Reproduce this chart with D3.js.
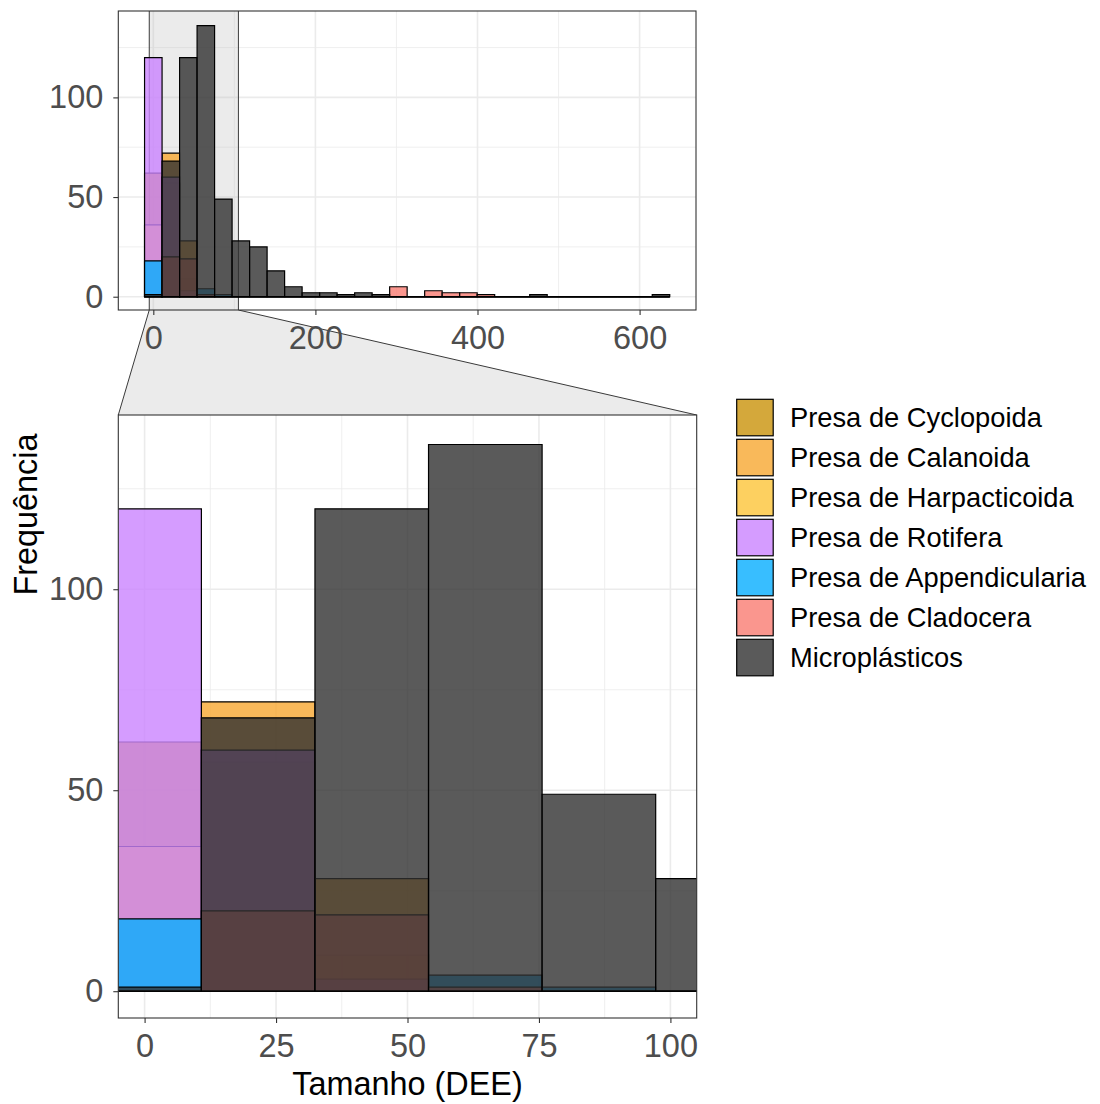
<!DOCTYPE html>
<html>
<head>
<meta charset="utf-8">
<script src="https://cdn.jsdelivr.net/npm/d3@7"></script>
<style>
  body { margin: 0; background: #fff; }
  text { font-family: "Liberation Sans", Arial, sans-serif; }
</style>
</head>
<body>
<div id="chart"></div>
<script>
// histogram bins (30 bins, first one centred on 0)
const binWidth = 21.6;
const binStart = -binWidth / 2;

const seriesNames = ["Presa de Cyclopoida", "Presa de Calanoida", "Presa de Harpacticoida",
  "Presa de Rotifera", "Presa de Appendicularia", "Presa de Cladocera", "Microplásticos"];
const seriesColors = ["#C9920A", "#F7A831", "#FDC438", "#CB83FF", "#06AEFF", "#F97C72", "#313131"];

// counts per bin, one array per series
const cyclopoida     = [62, 57, 9, 0, 0, 0, 0, 0, 0, 0, 0, 0, 0, 0, 0, 0, 0, 0, 0, 0, 0, 0, 0, 0, 0, 0, 0, 0, 0, 0];
const calanoida      = [0, 72, 28, 0, 0, 0, 0, 0, 0, 0, 0, 0, 0, 0, 0, 0, 0, 0, 0, 0, 0, 0, 0, 0, 0, 0, 0, 0, 0, 0];
const harpacticoida  = [36, 0, 0, 0, 0, 0, 0, 0, 0, 0, 0, 0, 0, 0, 0, 0, 0, 0, 0, 0, 0, 0, 0, 0, 0, 0, 0, 0, 0, 0];
const rotifera       = [120, 60, 3, 0, 0, 0, 0, 0, 0, 0, 0, 0, 0, 0, 0, 0, 0, 0, 0, 0, 0, 0, 0, 0, 0, 0, 0, 0, 0, 0];
const appendicularia = [18, 0, 0, 4, 1, 0, 0, 0, 0, 0, 0, 0, 0, 0, 0, 0, 0, 0, 0, 0, 0, 0, 0, 0, 0, 0, 0, 0, 0, 0];
const cladocera      = [0, 20, 19, 1, 0, 0, 0, 0, 0, 0, 0, 0, 0, 0, 5, 0, 3, 2, 2, 1, 0, 0, 0, 0, 0, 0, 0, 0, 0, 0];
const microplasticos = [1, 68, 120, 136, 49, 28, 25, 13, 5, 2, 2, 1, 2, 1, 0, 0, 0, 0, 0, 0, 0, 0, 1, 0, 0, 0, 0, 0, 0, 1];

const seriesCounts = [cyclopoida, calanoida, harpacticoida, rotifera, appendicularia, cladocera, microplasticos];

// ticks
const topXMajor = [0, 200, 400, 600], topXMinor = [100, 300, 500];
const botXMajor = [0, 25, 50, 75, 100], botXMinor = [12.5, 37.5, 62.5, 87.5];
const yMajor = [0, 50, 100], yMinor = [25, 75, 125];
const zoomRange = [-5, 105];

const W = 1100, H = 1104;
const fillAlpha = 0.8;

const svg = d3.select("#chart").append("svg")
  .attr("width", W).attr("height", H);

// panel boxes
const topBox = {x0: 118.3, x1: 696, y0: 11, y1: 310};
const botBox = {x0: 118.3, x1: 696.7, y0: 415, y1: 1018};

const nb = cyclopoida.length;
const xTop = d3.scaleLinear()
  .domain([binStart - 0.05 * nb * binWidth, binStart + nb * binWidth * 1.05])
  .range([topBox.x0, topBox.x1]);
const xBot = d3.scaleLinear().domain(zoomRange).range([botBox.x0, botBox.x1]);
const yMax = d3.max(seriesCounts, s => d3.max(s));
const yTop = d3.scaleLinear().domain([-0.049 * yMax, yMax * 1.054]).range([topBox.y1, topBox.y0]);
const yBot = d3.scaleLinear().domain([-0.049 * yMax, yMax * 1.054]).range([botBox.y1, botBox.y0]);

// zoom connector (between the panels)
svg.append("path")
  .attr("d", `M${xTop(zoomRange[0])},${topBox.y1} L${xTop(zoomRange[1])},${topBox.y1} L${botBox.x1},${botBox.y0} L${botBox.x0},${botBox.y0} Z`)
  .attr("fill", "#BEBEBE").attr("fill-opacity", 0.3)
  .attr("stroke", "none");
svg.append("line").attr("x1", xTop(zoomRange[0])).attr("y1", topBox.y1).attr("x2", botBox.x0).attr("y2", botBox.y0)
  .attr("stroke", "#3a3a3a").attr("stroke-width", 1);
svg.append("line").attr("x1", xTop(zoomRange[1])).attr("y1", topBox.y1).attr("x2", botBox.x1).attr("y2", botBox.y0)
  .attr("stroke", "#3a3a3a").attr("stroke-width", 1);

function drawPanel(box, xs, ys, xMajor, xMinor, withZoomRect, id) {
  const g = svg.append("g");
  g.append("rect").attr("x", box.x0).attr("y", box.y0)
    .attr("width", box.x1 - box.x0).attr("height", box.y1 - box.y0).attr("fill", "#fff");

  svg.append("clipPath").attr("id", id).append("rect")
    .attr("x", box.x0).attr("y", box.y0)
    .attr("width", box.x1 - box.x0).attr("height", box.y1 - box.y0);
  const inner = g.append("g").attr("clip-path", `url(#${id})`);

  // grid
  inner.selectAll(".vminor").data(xMinor).enter().append("line")
    .attr("x1", d => xs(d)).attr("x2", d => xs(d)).attr("y1", box.y0).attr("y2", box.y1)
    .attr("stroke", "#EBEBEB").attr("stroke-width", 0.8);
  inner.selectAll(".hminor").data(yMinor).enter().append("line")
    .attr("y1", d => ys(d)).attr("y2", d => ys(d)).attr("x1", box.x0).attr("x2", box.x1)
    .attr("stroke", "#EBEBEB").attr("stroke-width", 0.8);
  inner.selectAll(".vmajor").data(xMajor).enter().append("line")
    .attr("x1", d => xs(d)).attr("x2", d => xs(d)).attr("y1", box.y0).attr("y2", box.y1)
    .attr("stroke", "#EBEBEB").attr("stroke-width", 1.6);
  inner.selectAll(".hmajor").data(yMajor).enter().append("line")
    .attr("y1", d => ys(d)).attr("y2", d => ys(d)).attr("x1", box.x0).attr("x2", box.x1)
    .attr("stroke", "#EBEBEB").attr("stroke-width", 1.6);

  if (withZoomRect) {
    inner.append("rect")
      .attr("x", xs(zoomRange[0])).attr("y", box.y0 - 2)
      .attr("width", xs(zoomRange[1]) - xs(zoomRange[0])).attr("height", box.y1 - box.y0 + 4)
      .attr("fill", "#BEBEBE").attr("fill-opacity", 0.3)
      .attr("stroke", "#3a3a3a").attr("stroke-width", 1);
  }

  // bars: each series, each bin (zero bins leave a line on the baseline)
  seriesCounts.forEach((counts, si) => {
    inner.append("g").selectAll("path").data(counts).enter().append("path")
      .attr("d", (d, i) => {
        const a = xs(binStart + i * binWidth), b = xs(binStart + (i + 1) * binWidth);
        return `M${a},${ys(0)} H${b} V${ys(d)} H${a} Z`;
      })
      .attr("fill", seriesColors[si]).attr("fill-opacity", fillAlpha)
      .attr("stroke", "#000").attr("stroke-width", 1.2);
  });

  // border
  g.append("rect").attr("x", box.x0).attr("y", box.y0)
    .attr("width", box.x1 - box.x0).attr("height", box.y1 - box.y0)
    .attr("fill", "none").attr("stroke", "#333333").attr("stroke-width", 1.1);

  // axes
  const ax = g.append("g").attr("transform", `translate(0,${box.y1})`)
    .call(d3.axisBottom(xs).tickValues(xMajor).tickFormat(d3.format("d")).tickSize(5).tickPadding(11));
  const ay = g.append("g").attr("transform", `translate(${box.x0},0)`)
    .call(d3.axisLeft(ys).tickValues(yMajor).tickFormat(d3.format("d")).tickSize(5).tickPadding(10));
  [ax, ay].forEach(a => {
    a.select(".domain").remove();
    a.selectAll(".tick line").attr("stroke", "#333333").attr("stroke-width", 1.1);
    a.selectAll(".tick text").attr("fill", "#4D4D4D").style("font-size", "32.5px")
      .style("font-family", "'Liberation Sans', Arial, sans-serif");
  });
}

drawPanel(topBox, xTop, yTop, topXMajor, topXMinor, true, "clipTop");
drawPanel(botBox, xBot, yBot, botXMajor, botXMinor, false, "clipBot");

// axis titles
svg.append("text")
  .attr("x", (botBox.x0 + botBox.x1) / 2).attr("y", 1095)
  .attr("text-anchor", "middle").style("font-size", "32.4px").attr("fill", "#000")
  .text("Tamanho (DEE)");
svg.append("text")
  .attr("transform", `translate(37,${(topBox.y0 + botBox.y1) / 2}) rotate(-90)`)
  .attr("text-anchor", "middle").style("font-size", "32.4px").attr("fill", "#000")
  .text("Frequência");

// legend
const legend = svg.append("g").attr("transform", "translate(736.7,399.3)");
const rows = legend.selectAll("g").data(seriesNames).enter().append("g")
  .attr("transform", (d, i) => `translate(0,${i * 40})`);
rows.append("rect").attr("width", 36.5).attr("height", 36.5)
  .attr("fill", (d, i) => seriesColors[i]).attr("fill-opacity", fillAlpha)
  .attr("stroke", "#000").attr("stroke-width", 1.2);
rows.append("text").attr("x", 53.3).attr("y", 18.25).attr("dy", "0.36em")
  .style("font-size", "27.3px").attr("fill", "#000")
  .text(d => d);
</script>
</body>
</html>
